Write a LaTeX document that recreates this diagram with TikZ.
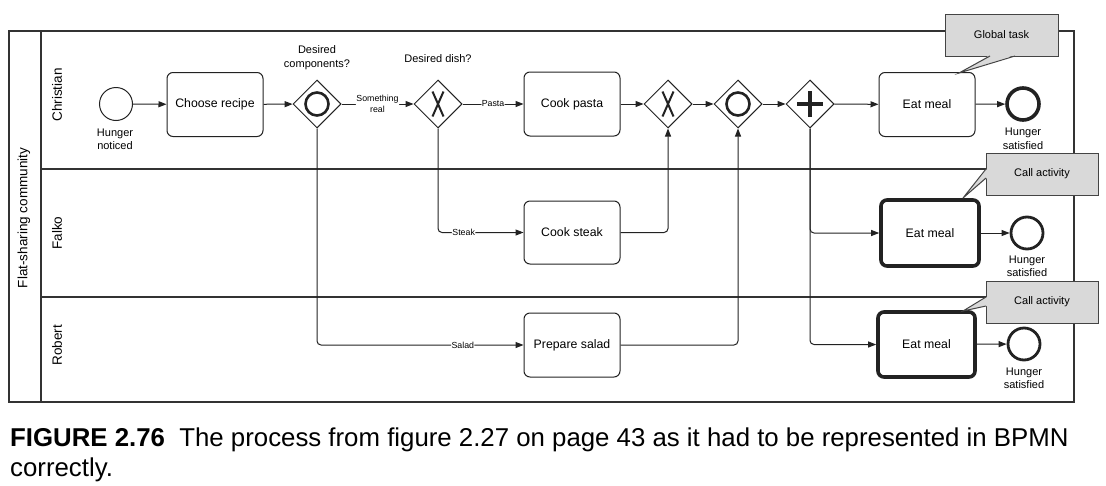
\documentclass[tikz,border=0pt]{standalone}
\usepackage{fontspec}
\setmainfont{Liberation Sans}
\usetikzlibrary{shapes.geometric,arrows.meta,calc}
\definecolor{linec}{HTML}{222222}
\definecolor{poolc}{HTML}{333333}
\definecolor{callfill}{HTML}{D9D9D9}
\definecolor{callline}{HTML}{444444}
\begin{document}
\begin{tikzpicture}[x=1pt,y=-1pt,
  task/.style={draw=linec, rounded corners=6, minimum width=96, minimum height=64, line width=1, font=\fontsize{12.3}{14}\selectfont, inner sep=0},
  calltask/.style={task, line width=3.6},
  gw/.style={diamond, draw=linec, minimum width=48, minimum height=48, inner sep=0, line width=1},
  startev/.style={circle, draw=linec, minimum size=33, inner sep=0, line width=1},
  endev/.style={circle, draw=linec, minimum size=32, inner sep=0, line width=2.8},
  flow/.style={draw=linec, line width=1, -{Triangle[length=8,width=6]}, rounded corners=4},
  flowlbl/.style={font=\fontsize{8.8}{10.5}\selectfont, fill=white, inner sep=0.5, align=center},
  evlbl/.style={font=\fontsize{11}{13.5}\selectfont, align=center, inner sep=0},
  lanelbl/.style={font=\fontsize{13.5}{15}\selectfont, rotate=90, inner sep=0},
  callout/.style={draw=callline, fill=callfill, line width=1, minimum width=112, minimum height=42, inner sep=0, font=\fontsize{11}{13}\selectfont},
  xmk/.style={line width=2, draw=linec},
  pmk/.style={line width=4, draw=linec},
  omk/.style={line width=2.6, draw=linec}
]
\useasboundingbox (0,0) rectangle (1106,485);
\fill[white] (0,0) rectangle (1106,485);

% pool and lanes
\draw[poolc, line width=1.3] (9,31) rectangle (1074,402);
\draw[poolc, line width=1.3] (41,31) -- (41,402);
\draw[poolc, line width=1.3] (41,169) -- (1074,169);
\draw[poolc, line width=1.3] (41,297) -- (1074,297);
\node[lanelbl] (pool) at (24,218) {Flat-sharing community};
\node[lanelbl] (lc) at (57,95) {Christian};
\node[lanelbl] (lf) at (57,233) {Falko};
\node[lanelbl] (lr) at (57,345) {Robert};

% Christian lane
\node[startev] (start) at (116,104) {};
\node[evlbl] (startl) at (115,139.5) {Hunger\\noticed};
\node[task] (recipe) at (215,104.5) {Choose recipe};
\node[gw] (gw1) at (317,104) {};
\draw[omk] (gw1.center) circle[radius=11.5];
\node[evlbl] (gw1l) at (317,57.5) {Desired\\components?};
\node[gw] (xor1) at (438,104) {};
\draw[xmk] ($(xor1.center)+(-5.5,-12.5)$) -- ($(xor1.center)+(5.5,12.5)$);
\draw[xmk] ($(xor1.center)+(5.5,-12.5)$) -- ($(xor1.center)+(-5.5,12.5)$);
\node[evlbl] (xor1l) at (438,59) {Desired dish?};
\node[task] (pasta) at (572,104) {Cook pasta};
\node[gw] (xor2) at (668,104) {};
\draw[xmk] ($(xor2.center)+(-5.5,-12.5)$) -- ($(xor2.center)+(5.5,12.5)$);
\draw[xmk] ($(xor2.center)+(5.5,-12.5)$) -- ($(xor2.center)+(-5.5,12.5)$);
\node[gw] (gw2) at (738,104) {};
\draw[omk] (gw2.center) circle[radius=11.5];
\node[gw] (par) at (810,104) {};
\draw[pmk] ($(par.center)+(-13,0)$) -- ($(par.center)+(13,0)$);
\draw[pmk] ($(par.center)+(0,-13)$) -- ($(par.center)+(0,13)$);
\node[task] (eat1) at (927,104.5) {Eat meal};
\node[endev, line width=3.6] (end1) at (1023,104) {};
\node[evlbl] (end1l) at (1023,139) {Hunger\\satisfied};

% Falko lane
\node[task, minimum height=63] (steak) at (572,232.5) {Cook steak};
\node[calltask, minimum width=98, minimum height=66] (eat2) at (930,233) {Eat meal};
\node[endev] (end2) at (1027,233) {};
\node[evlbl] (end2l) at (1027,266.5) {Hunger\\satisfied};

% Robert lane
\node[task] (salad) at (572,345) {Prepare salad};
\node[calltask, minimum width=97, minimum height=65] (eat3) at (926.5,344.5) {Eat meal};
\node[endev] (end3) at (1024,344) {};
\node[evlbl] (end3l) at (1024,378.5) {Hunger\\satisfied};

% flows
\draw[flow] (start) -- (recipe);
\draw[flow] (recipe) -- (gw1);
\draw[flow] (gw1) -- node[flowlbl] {Something\\real} (xor1);
\draw[flow] (xor1) -- node[flowlbl] {Pasta} (pasta);
\draw[flow] (pasta) -- (xor2);
\draw[flow] (xor2) -- (gw2);
\draw[flow] (gw2) -- (par);
\draw[flow] (par) -- (eat1);
\draw[flow] (eat1) -- (end1);
\draw[flow] (xor1.south) |- node[flowlbl, pos=0.65] {Steak} (steak.west);
\draw[flow] (gw1.south) |- node[flowlbl, pos=0.853] {Salad} (salad.west);
\draw[flow] (steak.east) -| (xor2.south);
\draw[flow] (salad.east) -| (gw2.south);
\draw[flow] (par.south) |- (eat2.west);
\draw[flow] (par.south) |- (eat3.west);
\draw[flow] (eat2) -- (end2);
\draw[flow] (eat3) -- (end3);

% callouts
\node[callout, minimum width=113] (gt) at (1001.5,35) {Global task};
\fill[callfill] (990,55) -- (959,73) -- (1015,55) -- cycle;
\draw[callline, line width=1] (990,56) -- (959,73) -- (1015,56);

\node[callout] (ca1) at (1042,174) {Call activity};
\fill[callfill] (987,169) -- (963,198) -- (987,178) -- cycle;
\draw[callline, line width=1] (986,169) -- (963,198) -- (986,178);

\node[callout] (ca2) at (1042,302) {Call activity};
\fill[callfill] (987,297) -- (963,311) -- (987,306) -- cycle;
\draw[callline, line width=1] (986,297) -- (963,311) -- (986,306);

% caption
\node[anchor=base west, inner sep=0, font=\fontsize{25.8}{30}\selectfont] (cap1) at (10,446) {\textbf{FIGURE 2.76}\ \ The process from figure 2.27 on page 43 as it had to be represented in BPMN};
\node[anchor=base west, inner sep=0, font=\fontsize{25.8}{30}\selectfont] (cap2) at (10,476) {correctly.};
\end{tikzpicture}
\end{document}
